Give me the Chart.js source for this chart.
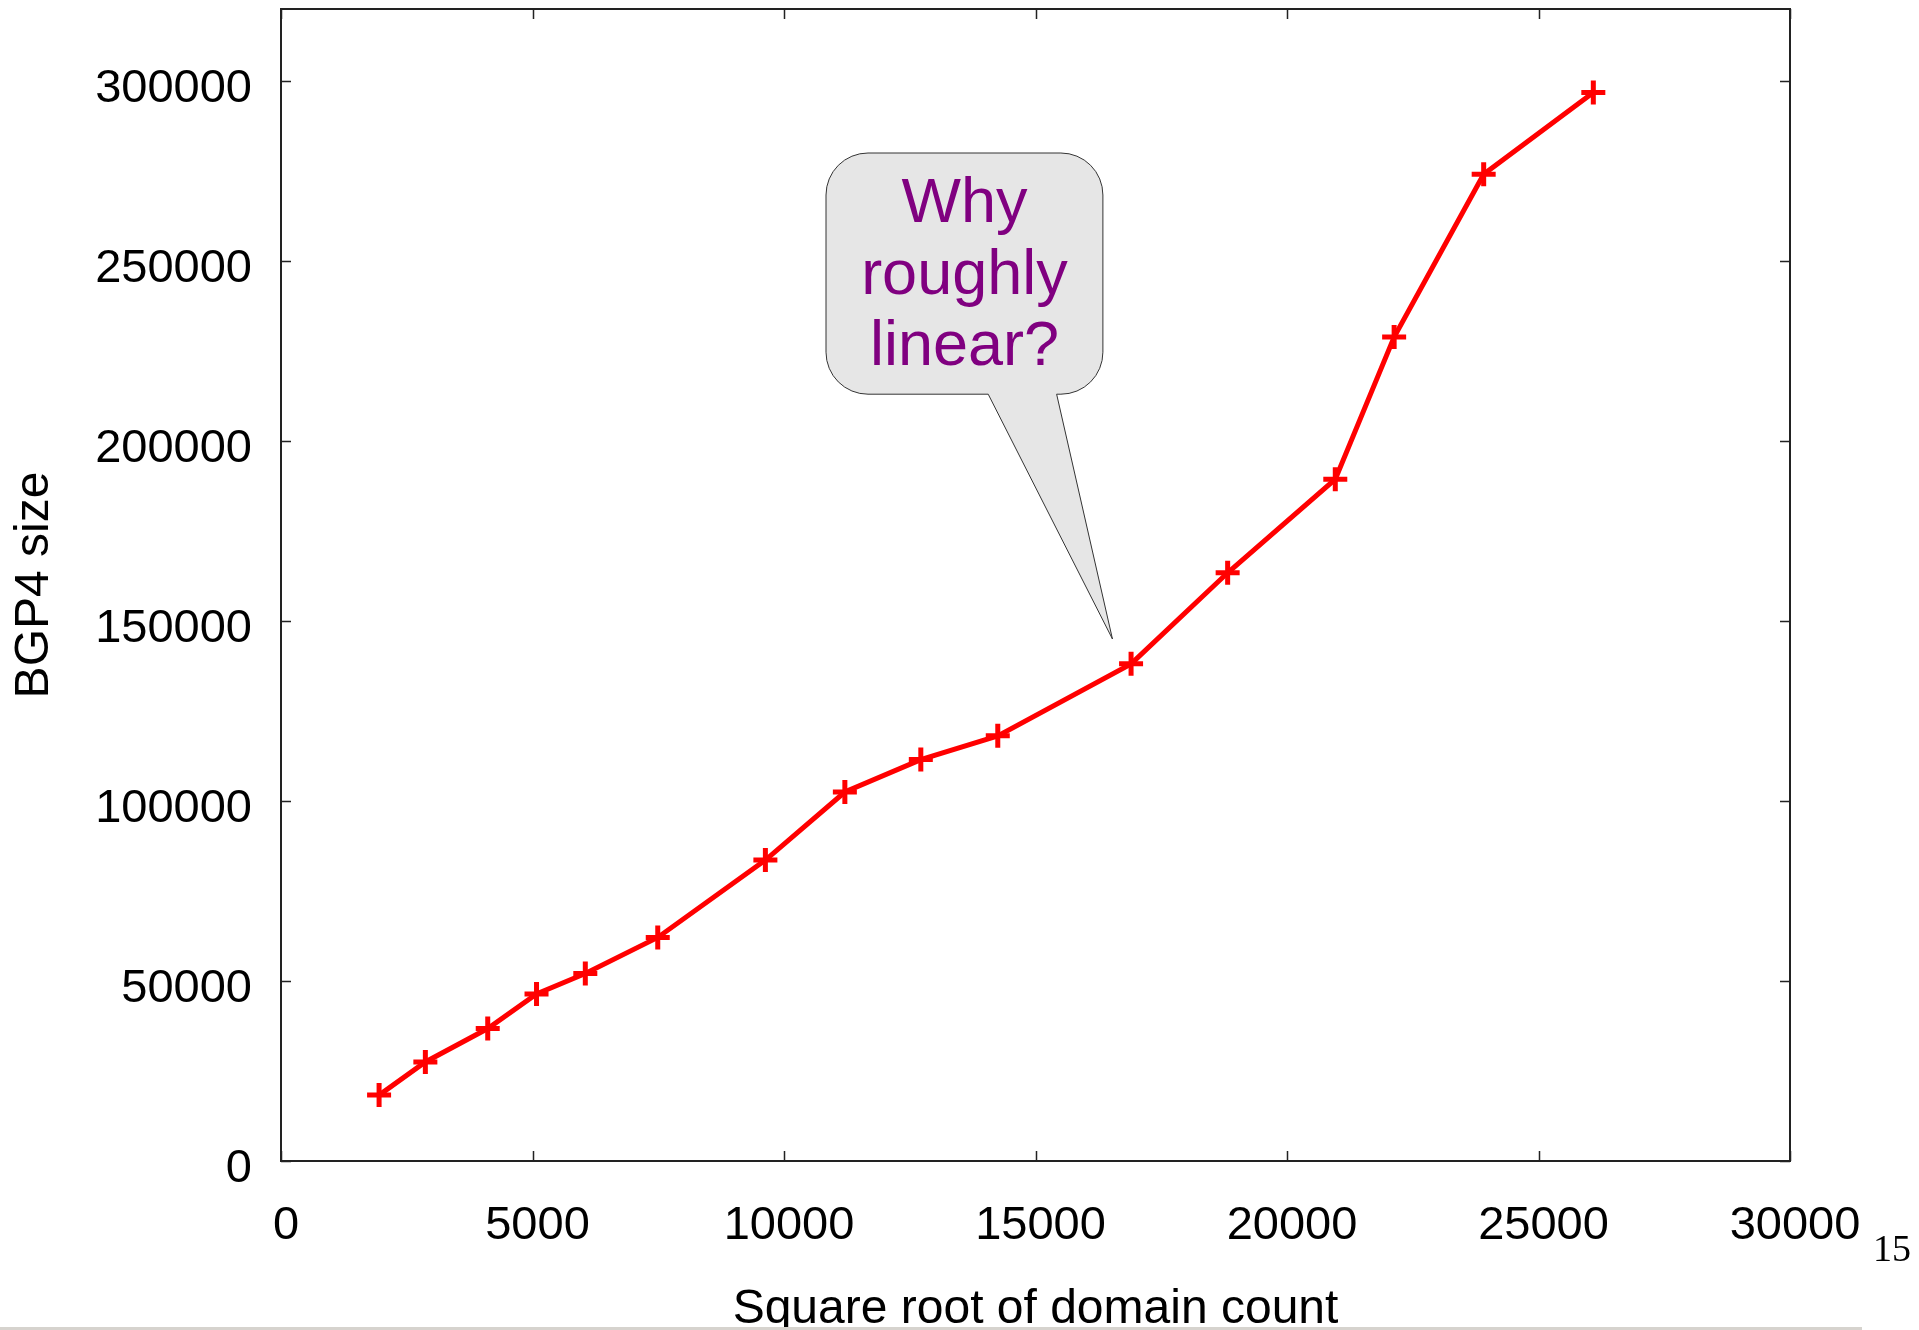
<!DOCTYPE html>
<html>
<head>
<meta charset="utf-8">
<script src="https://cdn.jsdelivr.net/npm/chart.js@4"></script>
<style>
  html, body { margin: 0; padding: 0; background: #fff; overflow: hidden; }
  #wrap { position: relative; width: 1919px; height: 1330px; }
  #bar { position: absolute; left: 0; top: 1327px; width: 1862px; height: 3px; background: #d6d3ce; }
</style>
</head>
<body>
<div id="wrap">
  <canvas id="myChart"></canvas>
  <div id="bar"></div>
</div>
<script>
"use strict";

// data
const domainRoot = [1950, 2870, 4110, 5080, 6050, 7490, 9630, 11210, 12720, 14250, 16900, 18820, 20960, 22130, 23910, 26090];
const bgpSize = [18300, 27500, 36800, 46400, 52100, 62100, 83600, 102500, 111500, 118100, 138100, 163400, 189400, 228900, 274100, 296800];

// tick labels
const xTicks = [0, 5000, 10000, 15000, 20000, 25000, 30000];
const yTicks = [0, 50000, 100000, 150000, 200000, 250000, 300000];

// speech bubble, placed in data units
const calloutLines = ['Why', 'roughly', 'linear?'];
const calloutBox = [10835, 16340, 280000, 213000];   // x0, x1, yTop, yBottom
const calloutTail = [14060, 15420, 16530, 145000];   // base x left, base x right, tip x, tip y

const FONT = 'Liberation Sans, Arial, sans-serif';

const ctx = document.getElementById('myChart').getContext('2d');

// frame + inward ticks on all four sides, the bubble and the page number
const framePlugin = {
  id: 'frame',
  afterDatasetsDraw(chart) {
    const c = chart.ctx;
    const xs = chart.scales.x;
    const ys = chart.scales.y;

    // bubble
    const bx0 = xs.getPixelForValue(calloutBox[0]);
    const bx1 = xs.getPixelForValue(calloutBox[1]);
    const by0 = ys.getPixelForValue(calloutBox[2]);
    const by1 = ys.getPixelForValue(calloutBox[3]);
    const tl = xs.getPixelForValue(calloutTail[0]);
    const tr = xs.getPixelForValue(calloutTail[1]);
    const tx = xs.getPixelForValue(calloutTail[2]);
    const ty = ys.getPixelForValue(calloutTail[3]);
    const r = 42;
    c.save();
    c.beginPath();
    c.moveTo(bx0 + r, by0);
    c.lineTo(bx1 - r, by0);
    c.arcTo(bx1, by0, bx1, by0 + r, r);
    c.lineTo(bx1, by1 - r);
    c.arcTo(bx1, by1, bx1 - r, by1, r);
    c.lineTo(tr, by1);
    c.lineTo(tx, ty);
    c.lineTo(tl, by1);
    c.lineTo(bx0 + r, by1);
    c.arcTo(bx0, by1, bx0, by1 - r, r);
    c.lineTo(bx0, by0 + r);
    c.arcTo(bx0, by0, bx0 + r, by0, r);
    c.closePath();
    c.fillStyle = '#e6e6e6';
    c.fill();
    c.lineWidth = 1;
    c.strokeStyle = '#333';
    c.stroke();

    c.fillStyle = '#800080';
    c.font = '63px ' + FONT;
    c.textAlign = 'center';
    c.textBaseline = 'alphabetic';
    const cx = (bx0 + bx1) / 2;
    calloutLines.forEach(function (t, i) {
      c.fillText(t, cx, by0 + 69 + 71.5 * i);
    });
    c.restore();
  },
  afterDraw(chart) {
    const c = chart.ctx;
    const a = chart.chartArea;
    const xs = chart.scales.x;
    const ys = chart.scales.y;
    const len = 10;
    c.save();
    c.strokeStyle = '#222';
    c.lineWidth = 2;
    c.strokeRect(a.left, a.top, a.right - a.left, a.bottom - a.top);
    c.beginPath();
    xs.ticks.forEach(function (t) {
      const px = Math.round(xs.getPixelForValue(t.value)) + 0.5;
      c.moveTo(px, a.bottom);
      c.lineTo(px, a.bottom - len);
      c.moveTo(px, a.top);
      c.lineTo(px, a.top + len);
    });
    ys.ticks.forEach(function (t) {
      const py = Math.round(ys.getPixelForValue(t.value)) + 0.5;
      c.moveTo(a.left, py);
      c.lineTo(a.left + len, py);
      c.moveTo(a.right, py);
      c.lineTo(a.right - len, py);
    });
    c.lineWidth = 1.5;
    c.stroke();

    // slide number
    c.fillStyle = '#000';
    c.font = '38px Liberation Serif, Times New Roman, serif';
    c.textAlign = 'left';
    c.textBaseline = 'alphabetic';
    c.fillText('15', 1873, 1261);
    c.restore();
  }
};

const points = domainRoot.map(function (x, i) { return { x: x, y: bgpSize[i] }; });

const chart = new Chart(ctx, {
  type: 'scatter',
  data: {
    datasets: [{
      data: points,
      showLine: true,
      borderColor: '#ff0000',
      borderWidth: 5,
      pointStyle: 'cross',
      pointRadius: 12,
      pointBorderWidth: 5,
      pointBorderColor: '#ff0000',
      pointBackgroundColor: '#ff0000'
    }]
  },
  options: {
    responsive: true,
    maintainAspectRatio: false,
    animation: false,
    events: [],
    layout: { autoPadding: false, padding: { top: 9, right: 129, bottom: 0, left: 0 } },
    plugins: {
      legend: { display: false },
      tooltip: { enabled: false }
    },
    scales: {
      x: {
        type: 'linear',
        min: 0,
        max: 30000,
        grid: { display: false, drawTicks: false },
        border: { display: false },
        afterBuildTicks: function (s) {
          s.ticks = xTicks.map(function (v) { return { value: v }; });
        },
        ticks: {
          color: '#000',
          padding: 42,
          labelOffset: 5,
          maxRotation: 0,
          autoSkip: false,
          font: { family: FONT, size: 47, lineHeight: 1 },
          callback: function (v) { return String(v); }
        },
        title: {
          display: true,
          text: 'Square root of domain count',
          color: '#000',
          padding: { top: 0, bottom: 0 },
          font: { family: FONT, size: 48, lineHeight: 0.85 }
        },
        afterFit: function (s) {
          s.height = 169;
          s.paddingLeft = 0;
          s.paddingRight = 0;
        }
      },
      y: {
        type: 'linear',
        min: 0,
        max: 320000,
        grid: { display: false, drawTicks: false },
        border: { display: false },
        afterBuildTicks: function (s) {
          s.ticks = yTicks.map(function (v) { return { value: v }; });
        },
        ticks: {
          color: '#000',
          padding: 29,
          labelOffset: 8,
          autoSkip: false,
          font: { family: FONT, size: 47, lineHeight: 0.3 },
          callback: function (v) { return String(v); }
        },
        title: {
          display: true,
          text: 'BGP4 size',
          color: '#000',
          padding: { top: 11, bottom: 0 },
          font: { family: FONT, size: 48, lineHeight: 1 }
        },
        afterFit: function (s) {
          s.width = 281;
          s.paddingTop = 0;
          s.paddingBottom = 0;
        }
      }
    }
  },
  plugins: [framePlugin]
});
</script>
</body>
</html>
